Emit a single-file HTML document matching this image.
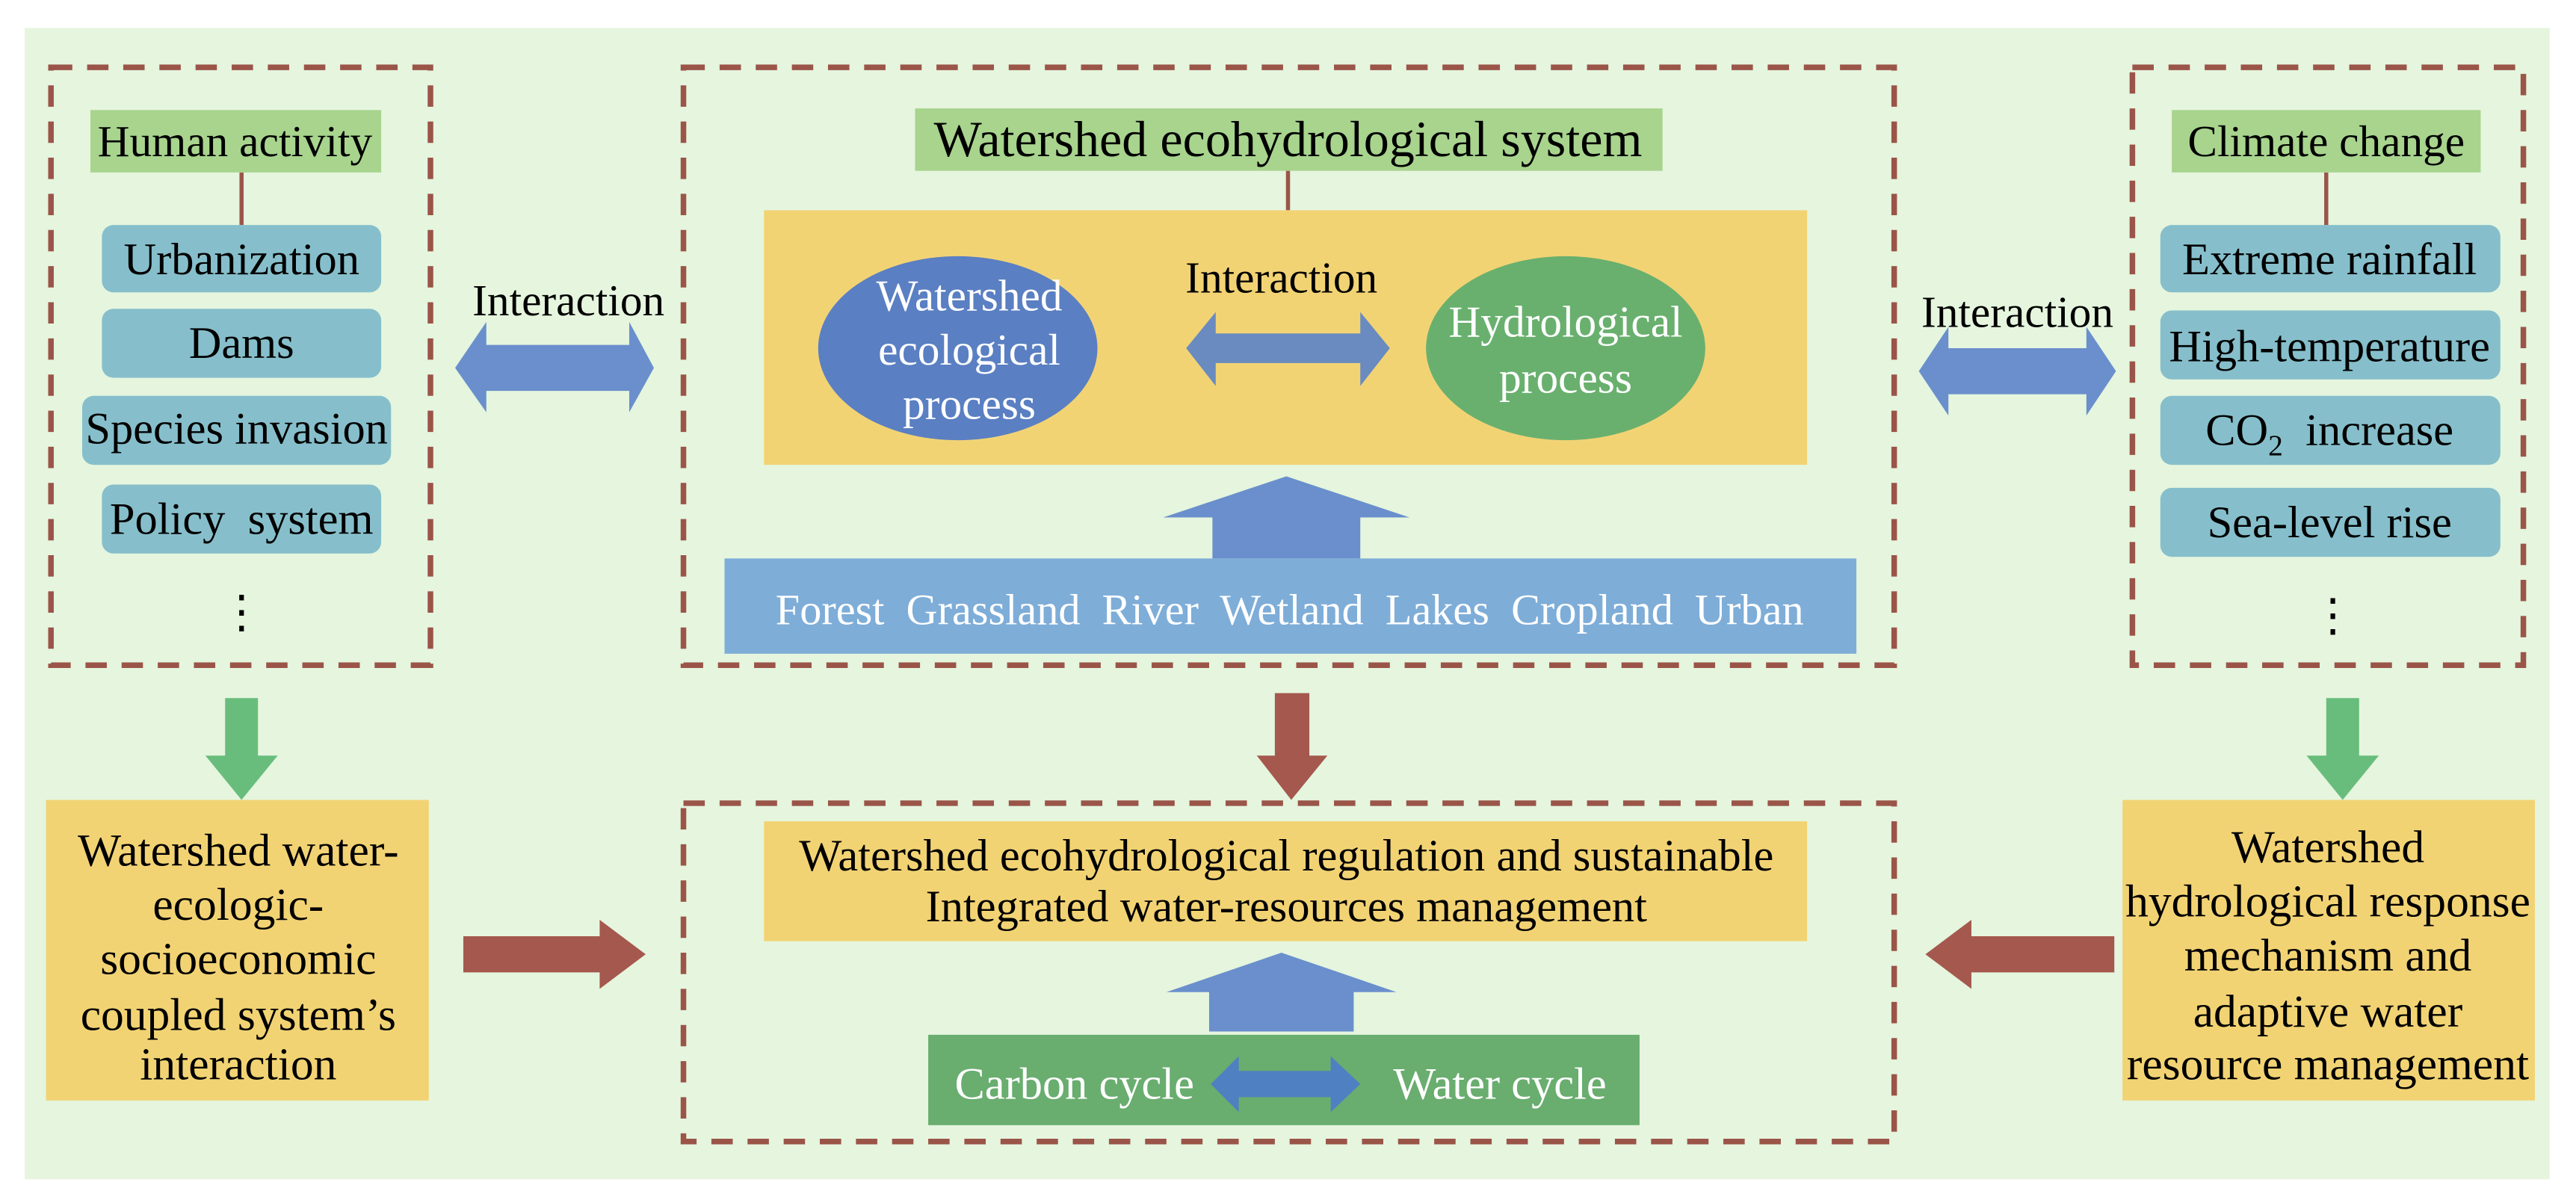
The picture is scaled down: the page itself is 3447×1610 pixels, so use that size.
<!DOCTYPE html>
<html><head><meta charset="utf-8"><style>
html,body{margin:0;padding:0;background:#fff;}
svg{display:block;}
text{font-family:"Liberation Serif",serif;}
</style></head><body>
<svg width="3447" height="1610" viewBox="0 0 1568 732.4" xmlns="http://www.w3.org/2000/svg">
<rect x="0" y="0" width="1568" height="732.4" fill="#fff"/>
<rect x="15" y="17" width="1537" height="701" fill="#e5f5de"/>
<g fill="none" stroke="#9a5548" stroke-width="3.4" stroke-dasharray="13 9">
<rect x="31" y="41" width="231" height="364"/>
<rect x="416" y="41" width="737" height="364"/>
<rect x="1298" y="41" width="238" height="364"/>
<rect x="416" y="489" width="737" height="206"/>
</g>
<g stroke="#9a5548" stroke-width="2.5">
<line x1="147" y1="105" x2="147" y2="137"/>
<line x1="784" y1="104" x2="784" y2="128"/>
<line x1="1416" y1="105" x2="1416" y2="137"/>
</g>
<!-- left -->
<rect x="55" y="67" width="177" height="38" fill="#a8d48e"/>
<text x="143" y="95" font-size="27" text-anchor="middle">Human activity</text>
<g fill="#86bfcb">
<rect x="62" y="137" width="170" height="41" rx="7"/>
<rect x="62" y="188" width="170" height="42" rx="7"/>
<rect x="50" y="241" width="188" height="42" rx="7"/>
<rect x="62" y="295" width="170" height="42" rx="7"/>
</g>
<g font-size="27.5" text-anchor="middle">
<text x="147" y="167">Urbanization</text>
<text x="147" y="218">Dams</text>
<text x="144" y="270">Species invasion</text>
<text x="147" y="325">Policy&#160; system</text>
<text x="147" y="382">&#8942;</text>
</g>
<!-- center -->
<rect x="557" y="66" width="455" height="38" fill="#a8d48e"/>
<text x="784" y="95" font-size="31" text-anchor="middle">Watershed ecohydrological system</text>
<rect x="465" y="128" width="635" height="155" fill="#f2d374"/>
<ellipse cx="583" cy="212" rx="85" ry="56" fill="#5a7fc2"/>
<ellipse cx="953" cy="212" rx="85" ry="56" fill="#69b06e"/>
<g fill="#fff" font-size="27" text-anchor="middle">
<text x="590" y="189">Watershed</text>
<text x="590" y="222">ecological</text>
<text x="590" y="255">process</text>
<text x="953" y="205">Hydrological</text>
<text x="953" y="239">process</text>
</g>
<text x="780" y="178" font-size="27" text-anchor="middle">Interaction</text>
<polygon fill="#6a8bbf" points="722,212 740,190 740,203 828,203 828,190 846,212 828,235 828,221 740,221 740,235"/>
<polygon fill="#6a8fcc" points="708,315 783,290 858,315 828,315 828,340 738,340 738,315"/>
<rect x="441" y="340" width="689" height="58" fill="#7eadd8"/>
<text x="785" y="380" font-size="26.5" fill="#fff" text-anchor="middle">Forest&#160; Grassland&#160; River&#160; Wetland&#160; Lakes&#160; Cropland&#160; Urban</text>
<!-- side interactions -->
<text x="346" y="192" font-size="27" text-anchor="middle">Interaction</text>
<polygon fill="#6a8fcc" points="277,224 296,196 296,210 383,210 383,196 398,224 383,251 383,238 296,238 296,251"/>
<text x="1228" y="199" font-size="27" text-anchor="middle">Interaction</text>
<polygon fill="#6a8fcc" points="1168,226 1186,199 1186,212 1270,212 1270,199 1288,226 1270,253 1270,240 1186,240 1186,253"/>
<!-- right -->
<rect x="1322" y="67" width="188" height="38" fill="#a8d48e"/>
<text x="1416" y="95" font-size="27" text-anchor="middle">Climate change</text>
<g fill="#86bfcb">
<rect x="1315" y="137" width="207" height="41" rx="7"/>
<rect x="1315" y="189" width="207" height="42" rx="7"/>
<rect x="1315" y="241" width="207" height="42" rx="7"/>
<rect x="1315" y="297" width="207" height="42" rx="7"/>
</g>
<g font-size="27.5" text-anchor="middle">
<text x="1418" y="167">Extreme rainfall</text>
<text x="1418" y="220">High-temperature</text>
<text x="1418" y="271">CO<tspan font-size="18" dy="6">2</tspan><tspan dy="-6">&#160; increase</tspan></text>
<text x="1418" y="327">Sea-level rise</text>
<text x="1420" y="384">&#8942;</text>
</g>
<!-- down arrows -->
<polygon fill="#69bd7c" points="137,425 157,425 157,460 169,460 147,487 125,460 137,460"/>
<polygon fill="#69bd7c" points="1416,425 1436,425 1436,460 1448,460 1426,487 1404,460 1416,460"/>
<polygon fill="#a5584d" points="776,422 797,422 797,460 808,460 786,487 765,460 776,460"/>
<!-- bottom -->
<rect x="28" y="487" width="233" height="183" fill="#f2d374"/>
<g font-size="28" text-anchor="middle">
<text x="145" y="527">Watershed water-</text>
<text x="145" y="560">ecologic-</text>
<text x="145" y="593">socioeconomic</text>
<text x="145" y="627">coupled system’s</text>
<text x="145" y="657">interaction</text>
</g>
<rect x="1292" y="487" width="251" height="183" fill="#f2d374"/>
<g font-size="28" text-anchor="middle">
<text x="1417" y="525">Watershed</text>
<text x="1417" y="558">hydrological response</text>
<text x="1417" y="591">mechanism and</text>
<text x="1417" y="625">adaptive water</text>
<text x="1417" y="657">resource management</text>
</g>
<polygon fill="#a5584d" points="282,570 365,570 365,560 393,581 365,602 365,592 282,592"/>
<polygon fill="#a5584d" points="1287,570 1200,570 1200,560 1172,581 1200,602 1200,592 1287,592"/>
<rect x="465" y="500" width="635" height="73" fill="#f2d374"/>
<g font-size="27.5" text-anchor="middle">
<text x="783" y="530">Watershed ecohydrological regulation and sustainable</text>
<text x="783" y="561">Integrated water-resources management</text>
</g>
<polygon fill="#6a8fcc" points="710,604 780,580 850,604 824,604 824,628 736,628 736,604"/>
<rect x="565" y="630" width="433" height="55" fill="#69ad6f"/>
<text x="654" y="669" font-size="27.5" fill="#fff" text-anchor="middle">Carbon cycle</text>
<text x="913" y="669" font-size="27.5" fill="#fff" text-anchor="middle">Water cycle</text>
<polygon fill="#4f80c2" points="737,660 754,643 754,652 810,652 810,643 828,660 810,677 810,668 754,668 754,677"/>
</svg>
</body></html>
